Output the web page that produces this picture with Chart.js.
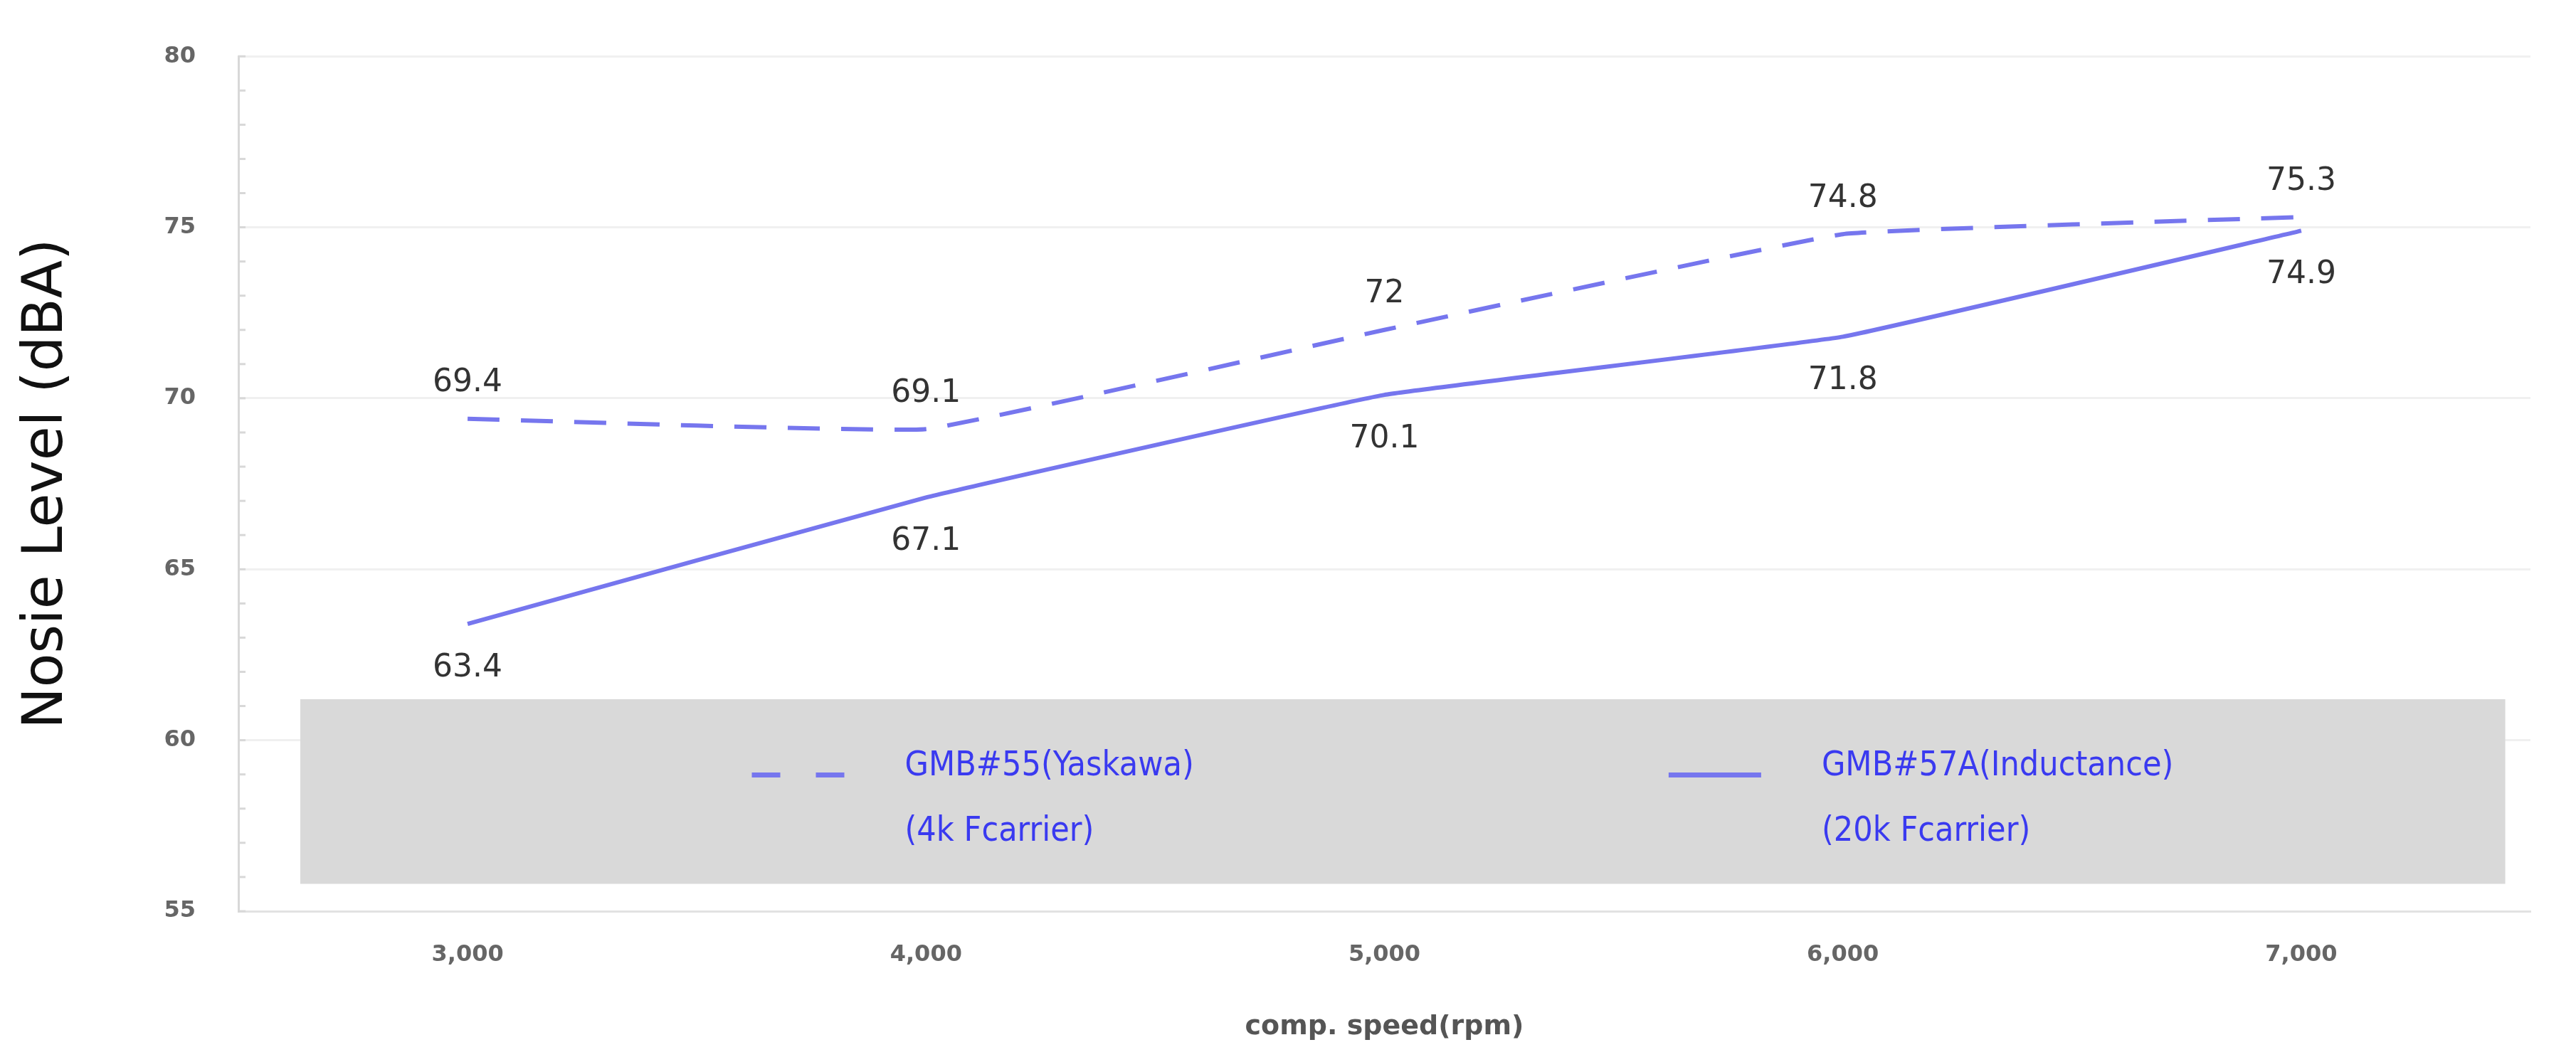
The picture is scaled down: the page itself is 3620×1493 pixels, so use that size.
<!DOCTYPE html>
<html>
<head>
<meta charset="utf-8">
<script src="https://cdn.jsdelivr.net/npm/chart.js@4.4.0/dist/chart.umd.min.js"></script>
<style>
  html, body { margin: 0; padding: 0; background: #fff; }
  #wrap { width: 3620px; height: 1493px; }
</style>
</head>
<body>
<div id="wrap"><canvas id="noiseChart"></canvas></div>
<script>
// Chart values
const speeds = ['3,000', '4,000', '5,000', '6,000', '7,000'];
const yaskawa = [69.4, 69.1, 72, 74.8, 75.3];
const inductance = [63.4, 67.1, 70.1, 71.8, 74.9];
const seriesNames = [['GMB#55(Yaskawa)', '(4k Fcarrier)'], ['GMB#57A(Inductance)', '(20k Fcarrier)']];

const lineColor = '#7676ee';

// Draws the grey legend box, minor ticks and point value labels
const decorPlugin = {
    id: 'decor',
    beforeDatasetsDraw(chart) {
        const { ctx, chartArea, scales } = chart;
        const y = scales.y;
        ctx.save();
        // minor ticks on the y axis
        ctx.strokeStyle = '#d8d8d8';
        ctx.lineWidth = 3;
        for (let v = 55; v <= 80; v++) {
            const py = y.getPixelForValue(v);
            ctx.beginPath();
            ctx.moveTo(chartArea.left, py);
            ctx.lineTo(chartArea.left + 10, py);
            ctx.stroke();
        }
        ctx.restore();
    },
    afterDatasetsDraw(chart) {
        const { ctx, chartArea, scales } = chart;
        const y = scales.y;
        const w = chartArea.right - chartArea.left;
        ctx.save();
        // legend box
        const boxTop = y.getPixelForValue(61.2);
        const boxBottom = y.getPixelForValue(55.8);
        const boxLeft = chartArea.left + w * 0.027;
        const boxRight = chartArea.left + w * 0.989;
        ctx.fillStyle = '#d9d9d9';
        ctx.fillRect(boxLeft, boxTop, boxRight - boxLeft, boxBottom - boxTop);

        const rowY = boxTop + (boxBottom - boxTop) * 0.41;
        const items = [
            { x: chartArea.left + w * 0.224, dash: [40, 50], text: seriesNames[0] },
            { x: chartArea.left + w * 0.624, dash: [], text: seriesNames[1] }
        ];
        items.forEach(it => {
            ctx.strokeStyle = lineColor;
            ctx.lineWidth = 7;
            ctx.setLineDash(it.dash);
            ctx.beginPath();
            ctx.moveTo(it.x, rowY);
            ctx.lineTo(it.x + 130, rowY);
            ctx.stroke();
            ctx.setLineDash([]);
            ctx.fillStyle = '#3a3af0';
            ctx.font = '48px "DejaVu Sans Condensed", "DejaVu Sans"';
            ctx.textAlign = 'left';
            ctx.textBaseline = 'middle';
            ctx.fillText(it.text[0], it.x + 215, rowY - 12);
            ctx.fillText(it.text[1], it.x + 215, rowY + 80);
        });

        // value labels
        ctx.fillStyle = '#333';
        ctx.font = '44px "DejaVu Sans"';
        ctx.textAlign = 'center';
        ctx.textBaseline = 'middle';
        chart.data.datasets.forEach((ds, i) => {
            const meta = chart.getDatasetMeta(i);
            meta.data.forEach((pt, j) => {
                const off = i === 0 ? -50 : 62;
                ctx.fillText(String(ds.data[j]), pt.x, pt.y + off);
            });
        });
        ctx.restore();
    }
};

new Chart(document.getElementById('noiseChart'), {
    type: 'line',
    data: {
        labels: speeds,
        datasets: [{
            label: seriesNames[0].join(' '),
            data: yaskawa,
            borderColor: lineColor,
            borderWidth: 6,
            borderDash: [45, 30],
            pointRadius: 0,
            tension: 0.08,
            fill: false
        }, {
            label: seriesNames[1].join(' '),
            data: inductance,
            borderColor: lineColor,
            borderWidth: 6,
            pointRadius: 0,
            tension: 0.08,
            fill: false
        }]
    },
    options: {
        responsive: true,
        maintainAspectRatio: false,
        animation: false,
        layout: { padding: { left: 20, right: 64, top: 22, bottom: 22 } },
        plugins: {
            legend: { display: false },
            tooltip: { enabled: false }
        },
        scales: {
            x: {
                offset: true,
                grid: { display: false, drawTicks: false },
                border: { color: '#e2e2e2', width: 3 },
                ticks: {
                    color: '#666',
                    padding: 42,
                    font: { family: 'DejaVu Sans', size: 32, weight: 'bold' }
                },
                title: {
                    display: true,
                    text: 'comp. speed(rpm)',
                    color: '#555',
                    padding: { top: 18 },
                    font: { family: 'DejaVu Sans', size: 38, weight: 'bold' }
                }
            },
            y: {
                min: 55,
                max: 80,
                afterFit: scale => { scale.width = 315; },
                grid: { color: '#f0f0f0', lineWidth: 3, drawTicks: false },
                border: { color: '#d8d8d8', width: 3 },
                ticks: {
                    stepSize: 5,
                    color: '#666',
                    padding: 60,
                    font: { family: 'DejaVu Sans', size: 32, weight: 'bold' }
                },
                title: {
                    display: true,
                    text: 'Nosie Level (dBA)',
                    color: '#111',
                    padding: 0,
                    font: { family: 'DejaVu Sans', size: 78 }
                }
            }
        }
    },
    plugins: [decorPlugin]
});
</script>
</body>
</html>
